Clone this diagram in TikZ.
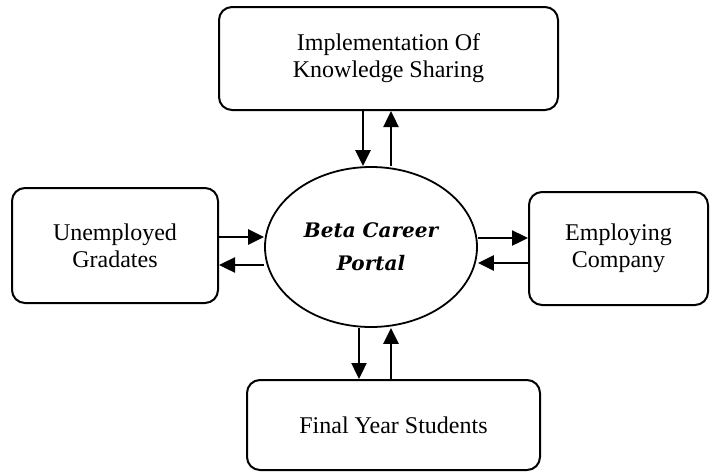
\documentclass[tikz,border=0pt]{standalone}
\usepackage{fontspec}
\setmainfont{Liberation Serif}
\newfontfamily\portalfont{DejaVu Serif}
\usetikzlibrary{shapes.geometric,arrows.meta}

\begin{document}
\begin{tikzpicture}[x=1pt,y=-1pt,
    box/.style={draw,line width=2pt,rounded corners=13pt,align=center,
      font=\fontsize{24}{27}\selectfont},
    flow/.style={line width=2.4pt,-{Triangle[length=16pt,width=15pt]}}]
  \useasboundingbox (0,0) rectangle (710,472);
  % the portal in the middle
  \node[draw,ellipse,line width=1.8pt,inner sep=0pt,minimum width=212pt,
    minimum height=160pt,align=center,
    font=\portalfont\bfseries\itshape\fontsize{20}{33}\selectfont]
    (portal) at (371,247) {Beta Career\\Portal};
  % the four parties round it
  \node[box,minimum width=339pt,minimum height=103pt] (impl) at (388.5,58.5)
    {Implementation Of\\Knowledge Sharing};
  \node[box,minimum width=206pt,minimum height=115pt] (grad) at (115,245.5)
    {Unemployed\\Gradates};
  \node[box,minimum width=179pt,minimum height=113pt] (comp) at (618.5,248.5)
    {Employing\\Company};
  \node[box,minimum width=293pt,minimum height=90pt] (stud) at (393.5,425)
    {Final Year Students};
  % flows in and out
  \draw[flow] ([xshift=-25.5pt]impl.south) -- ([xshift=-25.5pt]impl.south |- portal.north);
  \draw[flow] ([xshift=2.5pt]impl.south |- portal.north) -- ([xshift=2.5pt]impl.south);
  \draw[flow] ([yshift=8.5pt]grad.east) -- ([yshift=8.5pt]grad.east -| portal.west);
  \draw[flow] ([yshift=-19.5pt]grad.east -| portal.west) -- ([yshift=-19.5pt]grad.east);
  \draw[flow] ([yshift=10.5pt]comp.west -| portal.east) -- ([yshift=10.5pt]comp.west);
  \draw[flow] ([yshift=-14.5pt]comp.west) -- ([yshift=-14.5pt]comp.west -| portal.east);
  \draw[flow] ([xshift=-34.5pt]stud.north |- portal.south) -- ([xshift=-34.5pt]stud.north);
  \draw[flow] ([xshift=-2.5pt]stud.north) -- ([xshift=-2.5pt]stud.north |- portal.south);
\end{tikzpicture}
\end{document}
